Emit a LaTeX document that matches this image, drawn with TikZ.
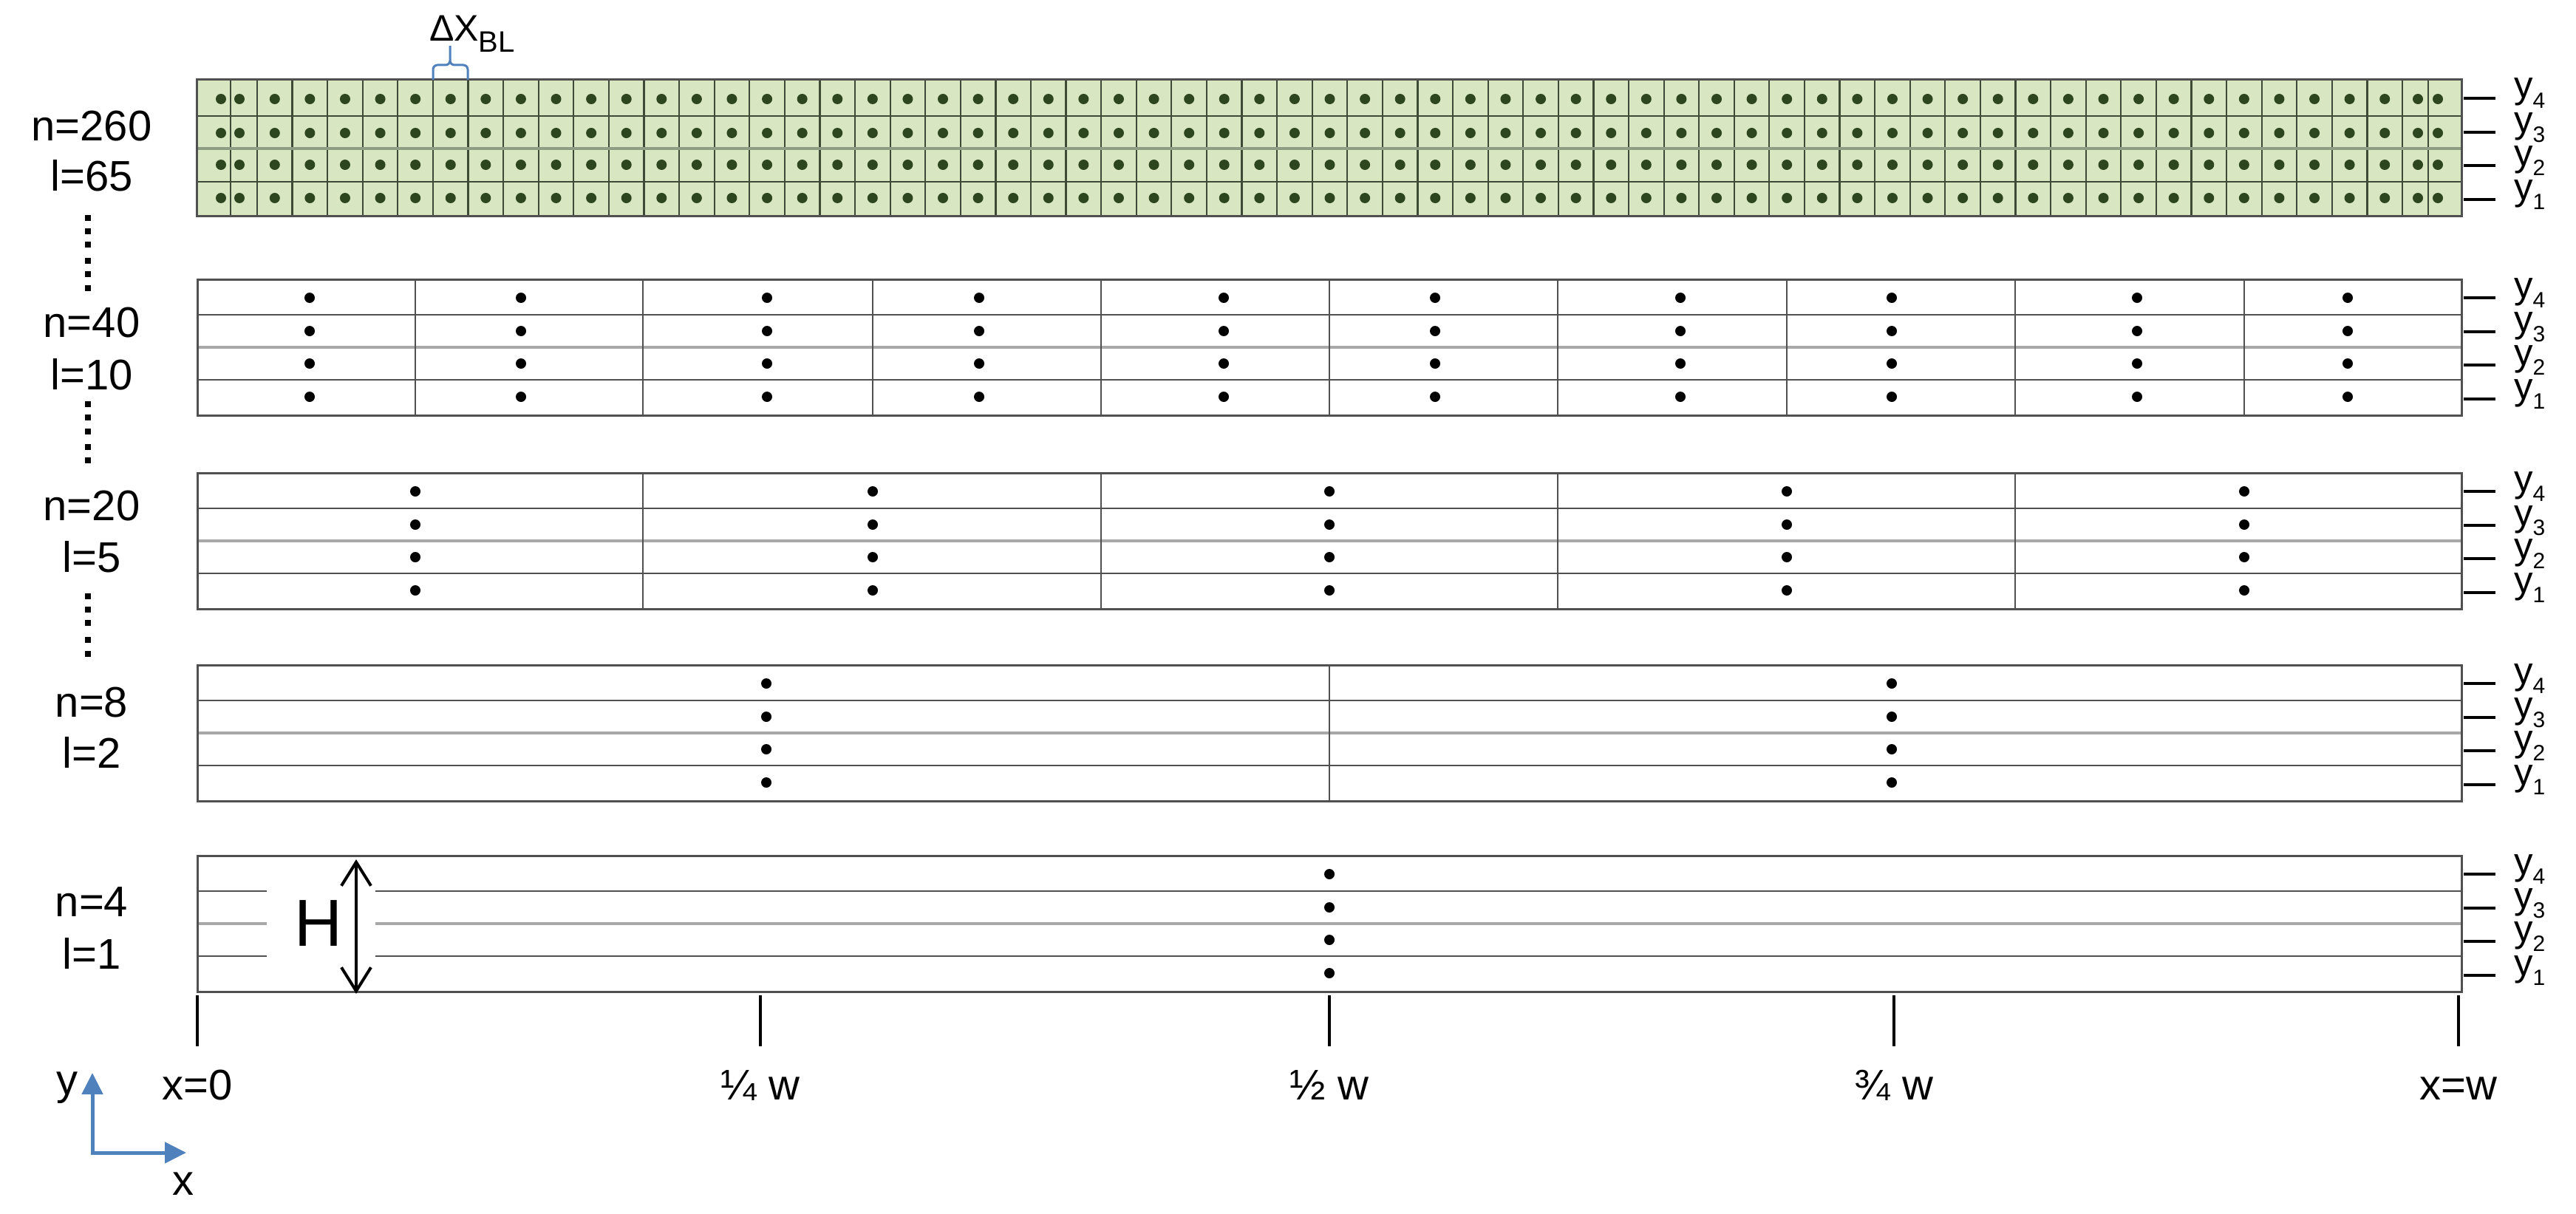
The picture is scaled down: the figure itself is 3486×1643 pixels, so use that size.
\documentclass[tikz,border=0pt]{standalone}
\usepackage{fontspec}
\setmainfont{Liberation Sans}
\usetikzlibrary{arrows.meta}
\definecolor{gridline}{HTML}{505050}
\definecolor{midline}{HTML}{A8A8A8}
\definecolor{greenfill}{HTML}{D8E6C2}
\definecolor{greenline}{HTML}{3C4A36}
\definecolor{greenmid}{HTML}{8E9E84}
\definecolor{greendot}{HTML}{2E4620}
\definecolor{axisblue}{HTML}{4F81BD}
\newcommand{\ylab}[1]{y\raisebox{-0.26em}{\fontsize{30}{30}\selectfont #1}}
\begin{document}
\begin{tikzpicture}[x=1pt,y=-1pt,
  lbl/.style={font=\fontsize{58}{64}\selectfont, inner sep=0pt, anchor=base},
  ylbl/.style={font=\fontsize{51}{56}\selectfont, inner sep=0pt, anchor=base west},
  stripborder/.style={draw=gridline, line width=3pt},
  rowline/.style={draw=gridline, line width=2.5pt},
  midrow/.style={draw=midline, line width=4pt},
  colline/.style={draw=gridline, line width=2.2pt},
  gcol/.style={draw=greenline, line width=2.2pt},
  greenrow/.style={draw=greenline, line width=2.5pt},
  gmid/.style={draw=greenmid, line width=4pt},
  tickmark/.style={draw=black, line width=4.5pt},
  bluebrace/.style={draw=axisblue, line width=3pt},
  sepdot/.style={fill=black}
]
\useasboundingbox (0,0) rectangle (3486,1643);

% ---------- strip 1 (n=260) ----------
\fill[greenfill] (266,108) rectangle (3331,292);
\foreach \x in {312,3286} \draw[gcol] (\x,108) -- (\x,292);
\foreach \k in {0,...,61} \draw[gcol] ({348+47.59*\k},108) -- ({348+47.59*\k},292);
\draw[greenrow] (266,157) -- (3331,157);
\draw[gmid] (266,201) -- (3331,201);
\draw[greenrow] (266,246) -- (3331,246);
\draw[stripborder] (266,108) rectangle (3331,292);
\foreach \y in {134,180,223,268} {
  \foreach \x in {299,324,3272,3299} \fill[greendot] (\x,\y) circle[radius=7pt];
  \foreach \k in {0,...,60} \fill[greendot] ({371.8+47.59*\k},\y) circle[radius=7pt];
}

% Delta x_BL brace and label
\draw[bluebrace] (586,108) -- (586,94) to[out=90,in=180] (592,88) -- (603,88) to[out=0,in=-90] (609,82) -- (609,62);
\draw[bluebrace] (633,108) -- (633,94) to[out=90,in=0] (627,88) -- (615,88) to[out=180,in=-90] (609,82);
\node[inner sep=0pt, anchor=base west] (dxbl) at (581,56)
  {\fontsize{50}{50}\selectfont ΔX\raisebox{-0.3em}{\fontsize{40}{40}\selectfont BL}};

% ---------- strips 2-4 ----------
\foreach \t/\ls/\ds in {
  378/{562,870,1181,1490,1799,2108,2418,2727,3037}/{419,705,1038,1325,1656,1942,2274,2560,2892,3177},
  640/{870,1490,2108,2727}/{562,1181,1799,2418,3037},
  900/{1799}/{1037,2560}} {
  \draw[rowline] (267,\t+48) -- (3331,\t+48);
  \draw[midrow] (267,\t+92) -- (3331,\t+92);
  \draw[rowline] (267,\t+136) -- (3331,\t+136);
  \foreach \x in \ls \draw[colline] (\x,\t) -- (\x,\t+184);
  \draw[stripborder] (267,\t) rectangle (3331,\t+184);
  \foreach \x in \ds {
    \foreach \dy in {25,70,114,159} \fill[black] (\x,\t+\dy) circle[radius=7pt];
  }
}

% ---------- strip 5 (n=4) ----------
\foreach \dy/\st in {48/rowline,92/midrow,136/rowline} {
  \draw[\st] (267,1158+\dy) -- (361,1158+\dy);
  \draw[\st] (508,1158+\dy) -- (3331,1158+\dy);
}
\draw[stripborder] (267,1158) rectangle (3331,1342);
\foreach \dy in {25,70,114,159} \fill[black] (1799,1158+\dy) circle[radius=7pt];
\coordinate (Htop) at (482,1163);
\coordinate (Hbot) at (482,1345);
\draw[line width=4pt, {Straight Barb[length=32pt,width=40pt]}-{Straight Barb[length=32pt,width=40pt]}] (Htop) -- (Hbot);
\node[inner sep=0pt, font=\fontsize{90}{90}\selectfont] (H) at (431,1250) {H};

% ---------- right y-ticks and labels ----------
\foreach \t [count=\i] in {108,378,640,900,1158} {
  \foreach \dy/\n in {25/4,71/3,116/2,162/1} {
    \draw[tickmark] (3334,\t+\dy) -- (3377,\t+\dy);
    \node[ylbl] (y\n s\i) at (3402,\t+\dy) {\ylab{\n}};
  }
}

% ---------- left labels ----------
\node[lbl] (n1) at (124,190) {n=260};
\node[lbl] (l1) at (124,258) {l=65};
\node[lbl] (n2) at (124,456) {n=40};
\node[lbl] (l2) at (124,527) {l=10};
\node[lbl] (n3) at (124,704) {n=20};
\node[lbl] (l3) at (124,774) {l=5};
\node[lbl] (n4) at (124,970) {n=8};
\node[lbl] (l4) at (124,1039) {l=2};
\node[lbl] (n5) at (124,1240) {n=4};
\node[lbl] (l5) at (124,1311) {l=1};

% vertical dotted separators
\foreach \y in {295,313,331,353,371,390, 547,565,584,605,623, 807,825,843,866,885} {
  \fill[sepdot] (115,\y-4) rectangle (123,\y+4);
}

% ---------- bottom x ticks and labels ----------
\foreach \x/\txt/\nm in {267/x=0/xa, 1029/¼ w/xb, 1799/½ w/xc, 2563/¾ w/xd, 3327/x=w/xe} {
  \draw[tickmark] (\x,1347) -- (\x,1416);
  \node[lbl] (\nm) at (\x,1488) {\txt};
}

% ---------- axes symbol ----------
\coordinate (ax) at (125,1560);
\coordinate (ay) at (125,1452);
\coordinate (axx) at (252,1560);
\draw[axisblue, line width=5pt, {Triangle[length=29pt,width=28pt]}-{Triangle[length=29pt,width=28pt]}] (ay) -- (ax) -- (axx);
\node[lbl] (ylab) at (91,1481) {y};
\node[lbl] (xlab) at (248,1617) {x};
\end{tikzpicture}
\end{document}
